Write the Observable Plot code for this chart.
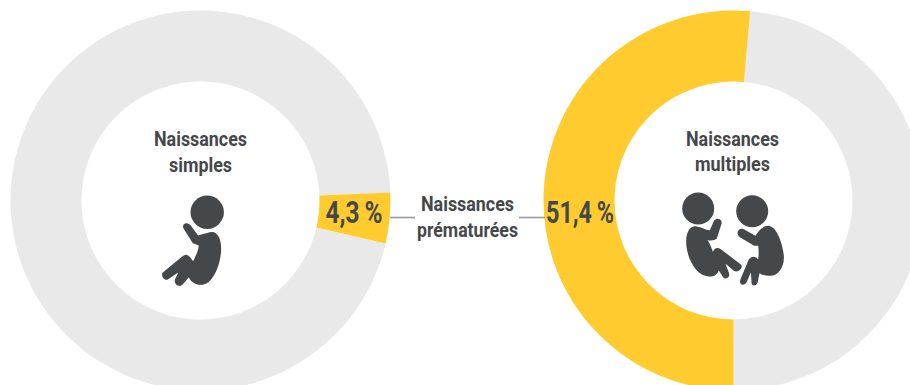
<!DOCTYPE html>
<html><head><meta charset="utf-8">
<script src="https://cdn.jsdelivr.net/npm/d3@7"></script>
<script src="https://cdn.jsdelivr.net/npm/@observablehq/plot@0.6"></script>
<style>html,body{margin:0;padding:0;background:#fff;overflow:hidden}</style>
</head><body><div id="chart"></div>
<script>
// Share of premature births, by type of birth
const birthTypes = ["Naissances simples", "Naissances multiples"];
const prematureShares = [4.3, 51.4];
const startAngles = [87.6, 180];
const centerX = [200, 733];
const centerY = 200;
const outerRadius = 190, innerRadius = 119;

const GREY = "#e9e9e9", YELLOW = "#ffcb2f", INK = "#45484a", RULE = "#9a9a9a";
const FONT = "Roboto,'DejaVu Sans Condensed',sans-serif";

const rad = (deg) => deg * Math.PI / 180;
// A ring sector drawn as a custom dot symbol, so the dot's x/y place it
const sector = (a0, a1) => ({draw(ctx) {
  d3.arc().context(ctx)({innerRadius, outerRadius, startAngle: rad(a0), endAngle: rad(a1)});
}});

const ringMarks = prematureShares.flatMap((share, i) => {
  const a0 = startAngles[i], a1 = a0 + share * 3.6;
  const at = [{x: centerX[i], y: centerY}];
  return [
    Plot.dot(at, {x: "x", y: "y", fill: GREY, r: 10, symbol: sector(a1, a0 + 360)}),
    Plot.dot(at, {x: "x", y: "y", fill: YELLOW, r: 10, symbol: sector(a0, a1)})
  ];
});

// Pictogram outlines on a 3-per-pixel grid: two numbers are a line,
// four a quadratic curve, six a cubic curve
const outlineSymbol = (steps) => ({draw(ctx) {
  const s = steps.map((c) => c.map((v) => v / 3));
  ctx.moveTo(...s[0]);
  for (const c of s.slice(1)) {
    if (c.length === 2) ctx.lineTo(...c);
    else if (c.length === 4) ctx.quadraticCurveTo(...c);
    else ctx.bezierCurveTo(...c);
  }
  ctx.closePath();
}});

const singleBaby = [
  [84,114],[78,98,94,94,104,103],[128,135],
  [140,132,165,122,175,125],[190,130,197,150,197,175],[197,215,175,285,135,283],
  [118,283,105,272,100,260],[84,279],[76,292,56,286,58,268],[68,246],
  [38,266],[28,274,14,256,22,246],[80,198],[94,186,104,200],[113,212],
  [122,195,128,180,130,165],[112,158],[84,114]
];
const leftTwin = [
  [114,100],[120,84,142,90,138,106],[124,150],[116,158,96,155],
  [100,160,108,175,112,190],[120,172,136,182],[196,228],[206,238,186,256,174,246],[150,226],
  [161,255],[164,272,144,274,140,262],[130,246],[124,260,114,265,100,264],[60,262,32,205,32,160],
  [32,135,40,115,58,113],[75,113,90,125,103,125],[114,100]
];
const rightTwin = [
  [205,122],[240,142],[250,125,262,112,280,112],[305,115,322,170,325,200],
  [328,240,305,262,285,262],[270,262,260,260,252,254],[247,280],[244,296,226,294,228,280],[226,252],
  [214,280],[206,296,188,288,195,272],[220,212],[234,198,248,212],[250,200,250,185,248,172],
  [236,172],[193,146],[178,134,190,116,205,122]
];
const iconShapes = [
  {x: 155, y: 190, symbol: outlineSymbol(singleBaby)},
  {x: 675, y: 188, symbol: outlineSymbol(leftTwin)},
  {x: 675, y: 188, symbol: outlineSymbol(rightTwin)}
];
const iconHeads = [
  {x: 206.7, y: 211.7, r: 16.7},
  {x: 697.7, y: 208, r: 16},
  {x: 751.7, y: 210.7, r: 16}
];
const iconMarks = [
  ...iconShapes.map((d) => Plot.dot([d], {x: "x", y: "y", r: 10, fill: INK, symbol: d.symbol})),
  ...iconHeads.map((d) => Plot.dot([d], {x: "x", y: "y", r: d.r, fill: INK}))
];

const fmt = (v) => v.toLocaleString("fr-FR", {minimumFractionDigits: 1});
const titleLines = [
  {x: 200, y: 139, t: "Naissances", w: 93},
  {x: 200, y: 165, t: "simples", w: 63},
  {x: 732, y: 139, t: "Naissances", w: 93},
  {x: 732, y: 164, t: "multiples", w: 75},
  {x: 467, y: 204, t: "Naissances", w: 93},
  {x: 467, y: 230, t: "prématurées", w: 101}
];
const leaderSegments = [{x1: 390, x2: 415, y: 217}, {x1: 519, x2: 545, y: 217}];
const valueLabels = [
  {x: 353.5, y: 213, t: fmt(prematureShares[0]) + "\u2009%", w: 57},
  {x: 579.5, y: 213, t: fmt(prematureShares[1]) + "\u2009%", w: 68}
];
const condensed = [...titleLines, ...valueLabels];

const chart = Plot.plot({
  width: 910, height: 385, margin: 0,
  x: {domain: [0, 910], range: [0, 910], axis: null},
  y: {domain: [0, 385], range: [0, 385], axis: null},
  style: {background: "#fff", overflow: "hidden"},
  marks: [
    ...ringMarks,
    Plot.ruleY(leaderSegments, {x1: "x1", x2: "x2", y: "y", stroke: RULE, strokeWidth: 1.6}),
    ...iconMarks,
    Plot.text(titleLines, {x: "x", y: "y", text: "t", fill: INK, fontFamily: FONT, fontWeight: 700, fontSize: 21}),
    Plot.text(valueLabels, {x: "x", y: "y", text: "t", fill: INK, fontFamily: FONT, fontWeight: 700, fontSize: 31})
  ]
});

// No narrow face is available, so squeeze each label to its set width
d3.select(chart).selectAll("text").each(function () {
  const row = condensed.find((d) => d.t === this.textContent);
  if (row) d3.select(this).attr("textLength", row.w).attr("lengthAdjust", "spacingAndGlyphs");
});
document.getElementById("chart").append(chart);
</script></body></html>
